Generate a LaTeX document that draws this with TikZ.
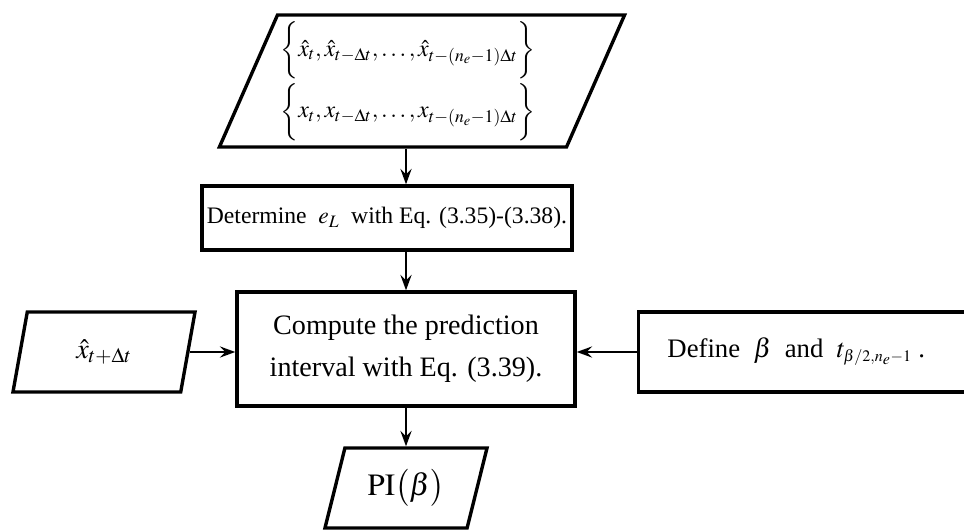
\documentclass[tikz,border=0pt]{standalone}
\usepackage{mathptmx}
\usepackage{fontspec}
\setmainfont{Liberation Serif}
\usetikzlibrary{shapes.geometric,arrows.meta}

\begin{document}
\begin{tikzpicture}[x=0.025cm, y=-0.025cm,
        font=\fontsize{20}{30}\selectfont,
        procbox/.style={draw, line width=2.4pt, rectangle, align=center},
        databox/.style={draw, line width=2.4pt, trapezium, trapezium left angle=65, trapezium right angle=115, trapezium stretches body, align=center, inner sep=2pt},
        flow/.style={-{Stealth[length=11pt, width=8pt, inset=4pt]}, line width=1.2pt}]
        \useasboundingbox (0,0) rectangle (964,531);
        \clip (0,0) rectangle (964,531);

        \node[databox, minimum width=10.1cm, minimum height=3.3cm, font=\fontsize{17}{20}\selectfont] (inp) at (422,81) {$\biggl\{\hat{x}_t, \hat{x}_{t-\Delta t}, \ldots, \hat{x}_{t-(n_e-1)\Delta t}\biggr\}$\hspace*{20pt}\\[2pt] $\biggl\{x_t, x_{t-\Delta t}, \ldots, x_{t-(n_e-1)\Delta t}\biggr\}$\hspace*{20pt}};
        \node[procbox, minimum width=9.25cm, minimum height=1.6cm, font=\fontsize{16.8}{20}\selectfont] (det) at (387,218) {Determine ~$e_L$~ with Eq. (3.35)-(3.38).};
        \node[procbox, minimum width=8.45cm, minimum height=2.85cm] (comp) at (406,349) {Compute the prediction\\interval with Eq. (3.39).};
        \node[databox, minimum width=4.55cm, minimum height=2cm] (xin) at (104,352) {$\hat{x}_{t+\Delta t}$};
        \node[procbox, anchor=west, minimum width=8.3cm, minimum height=2cm, font=\fontsize{19}{22}\selectfont] (def) at (637,352) {Define ~$\beta$~ and ~$t_{\scriptscriptstyle\beta/2,n_e-1}$ .\hspace*{12pt}};
        \node[databox, minimum width=4.05cm, minimum height=2cm, font=\fontsize{22}{26}\selectfont] (pi) at (406,488) {$\mathrm{PI}\bigl(\beta\bigr)$};

        \draw[flow] (comp.north |- inp.south) -- (comp.north |- det.north);
        \draw[flow] (comp.north |- det.south) -- (comp.north);
        \draw[flow] (xin.east) -- (xin.east -| comp.west);
        \draw[flow] (def.west) -- (def.west -| comp.east);
        \draw[flow] (comp.south) -- (comp.south |- pi.north);
        % \draw[red] (0,0) grid[step=100] (964,531);
    \end{tikzpicture}
\end{document}
